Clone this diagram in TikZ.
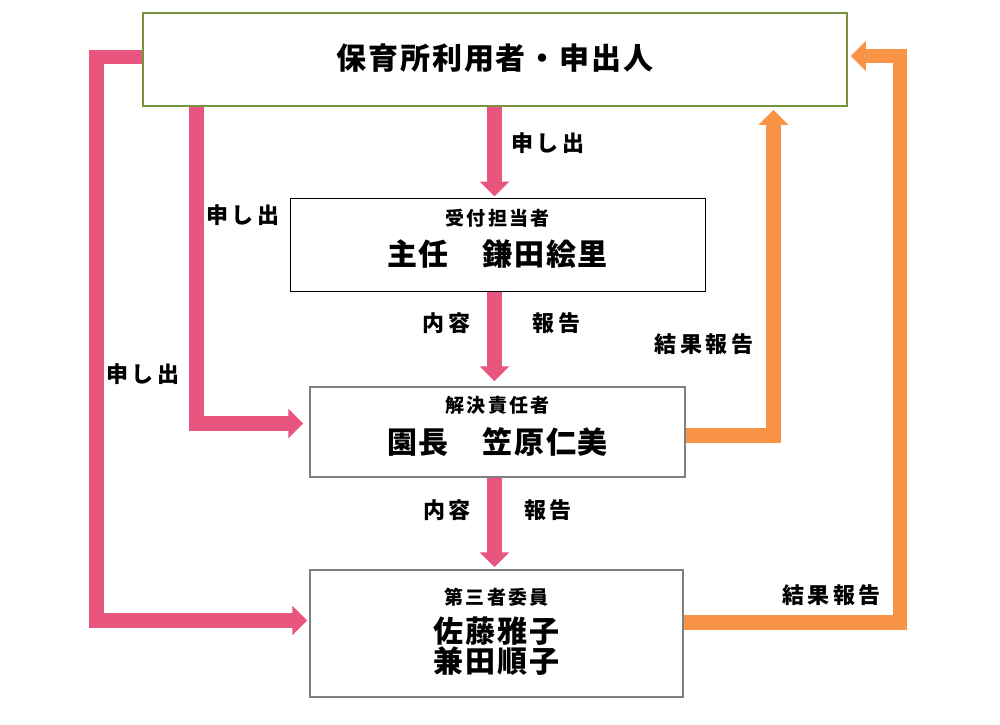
\documentclass[tikz,border=0pt]{standalone}
\usepackage{fontspec}
\usetikzlibrary{arrows.meta,calc}
\newfontfamily\jpbig{Noto Sans CJK JP}[LetterSpace=6]
\newfontfamily\jpsmall{Noto Sans CJK JP}[LetterSpace=12]
\newfontfamily\jplabel{Noto Sans CJK JP}[LetterSpace=16]
\definecolor{applypink}{HTML}{E8557F}
\definecolor{reportorange}{HTML}{F99447}
\definecolor{usergreen}{HTML}{77933C}
\definecolor{boxgray}{HTML}{7F7F7F}
\tikzset{
  userbox/.style={draw=usergreen,line width=1.5pt,minimum width=704pt,minimum height=93pt,inner sep=0pt},
  staffbox/.style={draw=boxgray,line width=1.5pt,inner sep=0pt},
  rolename/.style={font=\jpsmall\bfseries\fontsize{19}{19}\selectfont,inner sep=0pt},
  personname/.style={font=\jpbig\bfseries\fontsize{30}{28}\selectfont,align=center,inner sep=0pt},
  flowlabel/.style={font=\jplabel\bfseries\fontsize{22}{22}\selectfont,inner sep=0pt},
  applyarrow/.style={draw=applypink,line width=14.5pt,line join=miter,-{Triangle[width=29pt,length=15pt]}},
  reportarrow/.style={draw=reportorange,line width=14.5pt,line join=miter,-{Triangle[width=29pt,length=15pt]}}
}
\begin{document}
\begin{tikzpicture}[x=1pt,y=-1pt]
  \useasboundingbox (0,0) rectangle (1000,724);
  % boxes
  \node[userbox] (user) at (495,59.5) {};
  \node[staffbox,draw=black,line width=1pt,minimum width=415pt,minimum height=93pt] (recv) at (497.5,244.5) {};
  \node[staffbox,minimum width=375pt,minimum height=90pt] (resolve) at (497.5,432) {};
  \node[staffbox,minimum width=373pt,minimum height=127pt] (third) at (496.5,633.5) {};
  % texts in the boxes
  \node[personname] (usertxt) at (495,58.5) {保育所利用者・申出人};
  \node[rolename] (recvrole) at (497.5,218.5) {受付担当者};
  \node[personname] (recvname) at (497.5,254.5) {主任　鎌田絵里};
  \node[rolename] (resolverole) at (497.5,405.5) {解決責任者};
  \node[personname] (resolvename) at (497.5,441.5) {園長　笠原仁美};
  \node[rolename] (thirdrole) at (496.5,597) {第三者委員};
  \node[personname] (thirdname) at (496.5,646) {佐藤雅子\\兼田順子};
  % lanes
  \coordinate (trunk) at (494.5,0);
  \coordinate (lane1) at (196.5,0);
  \coordinate (lane2) at (96.5,0);
  \coordinate (lane3) at (773.5,0);
  \coordinate (lane4) at (900,0);
  \coordinate (u2) at ($(user.west)+(0,-2.5)$);
  \coordinate (t2) at ($(third.east)+(0,-11)$);
  % pink arrows
  \draw[applyarrow] (user.south -| trunk) -- ($(recv.north -| trunk)+(0,-1)$);
  \draw[applyarrow] (recv.south -| trunk) -- ($(resolve.north -| trunk)+(0,-5)$);
  \draw[applyarrow] (resolve.south -| trunk) -- ($(third.north -| trunk)+(0,-2)$);
  \draw[applyarrow] (user.south -| lane1) |- ($(resolve.west)+(-6,-8.5)$);
  \draw[applyarrow] (u2) -- (u2 -| lane2) |- ($(third.west)+(-2,-13)$);
  % orange arrows
  \draw[reportarrow] ($(resolve.east)+(0,3.5)$) -| ($(user.south -| lane3)+(0,3)$);
  \draw[reportarrow] (t2) -- (t2 -| lane4) |- ($(user.east)+(3,-3.5)$);
  % labels
  \node[flowlabel] (apply1) at (548,143.5) {申し出};
  \node[flowlabel] (apply2) at (243,215) {申し出};
  \node[flowlabel] (apply3) at (143,374) {申し出};
  \node[flowlabel] (content1) at (446.5,323) {内容};
  \node[flowlabel] (report1) at (556.5,323) {報告};
  \node[flowlabel] (content2) at (447,510) {内容};
  \node[flowlabel] (report2) at (548,510) {報告};
  \node[flowlabel] (result1) at (704,344) {結果報告};
  \node[flowlabel] (result2) at (831.5,595) {結果報告};
\end{tikzpicture}
\end{document}
